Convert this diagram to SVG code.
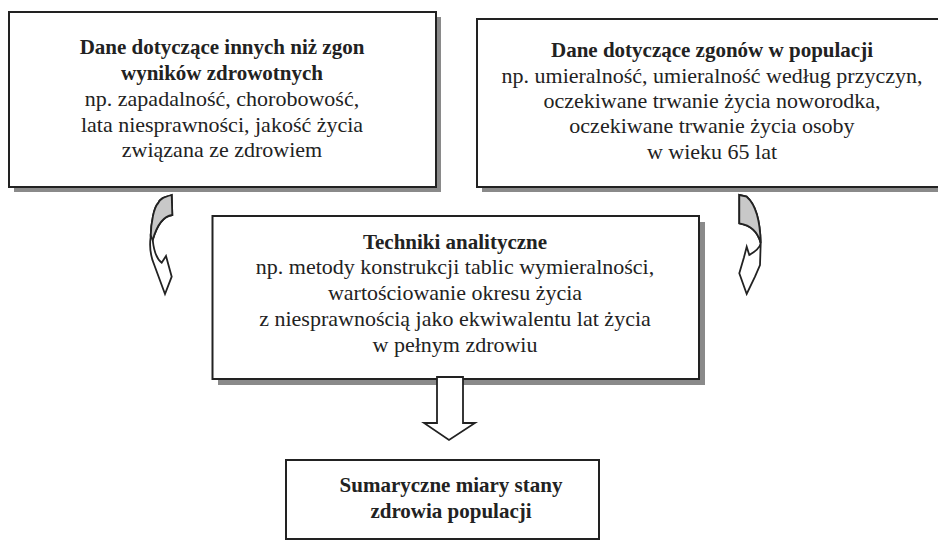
<svg xmlns="http://www.w3.org/2000/svg" width="938" height="541" viewBox="0 0 938 541">
<style>
.shadow{fill:#8a8a8a;stroke:none}
.box{fill:#fff;stroke:#222;stroke-width:2}
text{font-family:"Liberation Serif","Times New Roman",serif;font-size:22px;fill:#222;text-anchor:middle}
.b{font-weight:bold;font-size:21px}
.arr{fill:#fff;stroke:#222;stroke-width:1.8;stroke-linejoin:miter}
.arrg{fill:#c8c8c8;stroke:#222;stroke-width:1.8}
</style>
<rect width="938" height="541" fill="#fff"/>
<g id="node-nonfatal">
<rect class="shadow" x="14" y="17" width="427" height="175"/>
<rect class="box" x="9" y="12" width="427" height="175"/>
<text class="b" x="222" y="54">Dane dotyczące innych niż zgon</text>
<text class="b" x="222" y="80">wyników zdrowotnych</text>
<text x="222" y="106">np. zapadalność, chorobowość,</text>
<text x="222" y="132">lata niesprawności, jakość życia</text>
<text x="222" y="157">związana ze zdrowiem</text>
</g>
<g id="node-mortality">
<rect class="shadow" x="482" y="24" width="470" height="168"/>
<rect class="box" x="477" y="19" width="470" height="168"/>
<text class="b" x="712" y="57">Dane dotyczące zgonów w populacji</text>
<text x="712" y="83">np. umieralność, umieralność według przyczyn,</text>
<text x="712" y="108">oczekiwane trwanie życia noworodka,</text>
<text x="712" y="133">oczekiwane trwanie życia osoby</text>
<text x="712" y="159">w wieku 65 lat</text>
</g>
<g id="node-techniques">
<rect class="shadow" x="218" y="222" width="487" height="163"/>
<rect class="box" x="212.5" y="216" width="486.5" height="163"/>
<text class="b" x="455" y="249">Techniki analityczne</text>
<text x="455" y="274">np. metody konstrukcji tablic wymieralności,</text>
<text x="455" y="300">wartościowanie okresu życia</text>
<text x="455" y="326">z niesprawnością jako ekwiwalentu lat życia</text>
<text x="455" y="352">w pełnym zdrowiu</text>
</g>
<g id="node-summary">
<rect class="box" x="286" y="460" width="313" height="79"/>
<text class="b" x="451" y="492">Sumaryczne miary stany</text>
<text class="b" x="451" y="518">zdrowia populacji</text>
</g>
<g id="connectors">
<g id="arrow-left">
<path class="arr" d="M171.7,195 L172.3,215 C164,216 157,225 152.7,240 C154,252 158,260 161.7,262.7 L166,256 L171.7,276.7 L165,294 L154.3,265 C150,255 149.5,245 150.7,236.7 C151,222 154,207 158.3,203 C160,199 163,197.3 171.7,195 Z"/>
<path class="arrg" d="M171.7,195 L172.3,215 C164,216 157,225 152.7,240 C150.5,238 150.5,230 150.7,236.7 C151,222 154,207 158.3,203 C160,199 163,197.3 171.7,195 Z"/>
</g>
<g id="arrow-right">
<path class="arr" d="M739.3,195 L746.7,196.7 C754,203 760,215 760.7,243.3 L760,265 L755,276.7 L746.7,294 L739.3,273.3 L744,257.3 L746.7,246.7 L749.3,255 C756,251 760,247 760.7,243.3 C758,232 750,225 739.3,223.3 Z"/>
<path class="arrg" d="M739.3,195 L746.7,196.7 C754,203 760,215 760.7,243.3 C758,232 750,225 739.3,223.3 Z"/>
</g>
<polygon id="arrow-down" class="arr" points="437,377 463,377 463,423 475,423 449,440 424,423 437,423"/>
</g>
</svg>
